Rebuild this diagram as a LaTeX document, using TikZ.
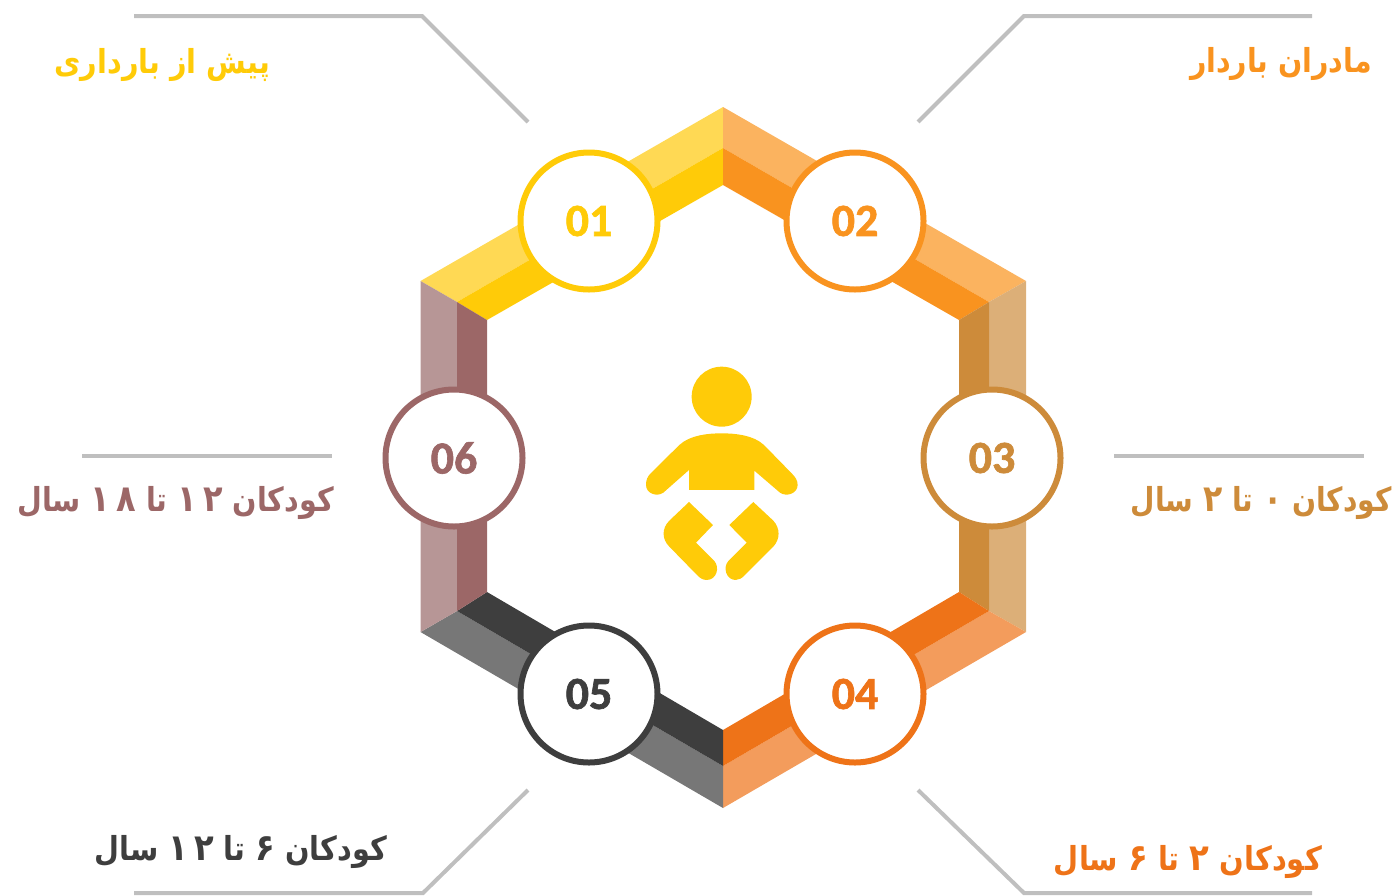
\documentclass[tikz,border=0pt]{standalone}
\usepackage{fontspec}
\TeXXeTstate=1
\newfontfamily\arabicfont[Script=Arabic,FakeStretch=0.88]{DejaVu Sans}
\newfontfamily\numfont[BoldFeatures={FakeBold=1.4}]{Carlito}
\newcommand{\dg}[1]{\beginL{\fontsize{37}{34}\selectfont #1}\endL{}}
\definecolor{yA}{HTML}{FFCB08}\definecolor{yB}{HTML}{FFD954}
\definecolor{oA}{HTML}{F9931F}\definecolor{oB}{HTML}{FBB35F}
\definecolor{tA}{HTML}{CD8B3A}\definecolor{tB}{HTML}{DCAF78}
\definecolor{rA}{HTML}{EE7318}\definecolor{rB}{HTML}{F39C5C}
\definecolor{gA}{HTML}{3E3E3E}\definecolor{gB}{HTML}{777777}
\definecolor{bA}{HTML}{9C6767}\definecolor{bB}{HTML}{B79696}
\definecolor{lineg}{HTML}{BFBFBF}
\tikzset{
  numcircle/.style={circle,draw=#1,fill=white,line width=6pt,minimum size=137pt,inner sep=0pt,text=#1,font=\numfont\bfseries\fontsize{46}{46}\selectfont},
  leader/.style={draw=lineg,line width=4pt},
  lbl/.style={text=#1,inner sep=0pt,font=\arabicfont\bfseries\fontsize{33}{38}\selectfont},
}
\begin{document}
\begin{tikzpicture}[x=1pt,y=-1pt]
\useasboundingbox (0,0) rectangle (1399,895);
% outer, middle, inner hexagon
\coordinate (o1) at (420.5,281);\coordinate (o2) at (723,107);\coordinate (o3) at (1026,281);
\coordinate (o4) at (1026,632);\coordinate (o5) at (723,808);\coordinate (o6) at (420.5,632);
\coordinate (m1) at (457,302);\coordinate (m2) at (723,148);\coordinate (m3) at (989,302);
\coordinate (m4) at (989,611);\coordinate (m5) at (723,766);\coordinate (m6) at (457,611);
\coordinate (i1) at (487,320);\coordinate (i2) at (723,185);\coordinate (i3) at (959,320);
\coordinate (i4) at (959,592);\coordinate (i5) at (723,730);\coordinate (i6) at (487,592);
\fill[yB] (o1)--(o2)--(m2)--(m1)--cycle; \fill[yA] (m1)--(m2)--(i2)--(i1)--cycle;
\fill[oB] (o2)--(o3)--(m3)--(m2)--cycle; \fill[oA] (m2)--(m3)--(i3)--(i2)--cycle;
\fill[tB] (o3)--(o4)--(m4)--(m3)--cycle; \fill[tA] (m3)--(m4)--(i4)--(i3)--cycle;
\fill[rB] (o4)--(o5)--(m5)--(m4)--cycle; \fill[rA] (m4)--(m5)--(i5)--(i4)--cycle;
\fill[gB] (o5)--(o6)--(m6)--(m5)--cycle; \fill[gA] (m5)--(m6)--(i6)--(i5)--cycle;
\fill[bB] (o6)--(o1)--(m1)--(m6)--cycle; \fill[bA] (m6)--(m1)--(i1)--(i6)--cycle;
% numbered circles
\node[numcircle=yA] (c1) at (589,221) {\raisebox{-1pt}{01}};
\node[numcircle=oA] (c2) at (855,221) {\raisebox{-1pt}{02}};
\node[numcircle=tA] (c3) at (992,458) {\raisebox{-1pt}{03}};
\node[numcircle=rA] (c4) at (855,694) {\raisebox{-1pt}{04}};
\node[numcircle=gA] (c5) at (589,694) {\raisebox{-1pt}{05}};
\node[numcircle=bA] (c6) at (454,458) {\raisebox{-1pt}{06}};
% leaders
\coordinate (a1) at (134,16);\coordinate (a2) at (422,16);\coordinate (a3) at (528,122);
\coordinate (b1) at (1312,16);\coordinate (b2) at (1024,16);\coordinate (b3) at (918,122);
\coordinate (d1) at (82,456);\coordinate (d2) at (332,456);
\coordinate (e1) at (1114,456);\coordinate (e2) at (1364,456);
\coordinate (f1) at (134,893);\coordinate (f2) at (423,893);\coordinate (f3) at (528,790);
\coordinate (g1) at (1312,893);\coordinate (g2) at (1024,893);\coordinate (g3) at (918,790);
\draw[leader] (a1)--(a2)--(a3);
\draw[leader] (b1)--(b2)--(b3);
\draw[leader] (d1)--(d2);
\draw[leader] (e1)--(e2);
\draw[leader] (f1)--(f2)--(f3);
\draw[leader] (g1)--(g2)--(g3);
% labels
\node[lbl=yA,anchor=mid east] (t1) at (270,71.5) {\scalebox{0.99}[1]{\beginR پیش از بارداری\endR}};
\node[lbl=oA,anchor=mid east] (t2) at (1372,70) {\scalebox{0.98}[1]{\beginR مادران باردار\endR}};
\node[lbl=tA,anchor=mid east] (t3) at (1392,509) {\scalebox{0.97}[1]{\beginR کودکان \dg{۰} تا \dg{۲} سال\endR}};
\node[lbl=rA,anchor=mid east] (t4) at (1322,868) {\scalebox{0.995}[1]{\beginR کودکان \dg{۲} تا \dg{۶} سال\endR}};
\node[lbl=gA,anchor=mid east] (t5) at (387,858) {\scalebox{0.99}[1]{\beginR کودکان \dg{۶} تا \dg{۱\,۲} سال\endR}};
\node[lbl=bA,anchor=mid east] (t6) at (334,509) {\scalebox{0.985}[1]{\beginR کودکان \dg{۱\,۲} تا \dg{۱\,۸} سال\endR}};
% baby
\begin{scope}[shift={(620,350)},x=0.3333pt,y=-0.3333pt]
\fill[yA] (305,140) circle[x radius=90,y radius=90];
\fill[yA] (207,420)--(403,420)--(403,362)--(480,428)
  .. controls (500,442) and (533,430) .. (533,405)
  .. controls (533,390) and (525,380) .. (515,370)
  --(432,285) .. controls (400,255) and (345,250) .. (305,250)
  .. controls (265,250) and (210,255) .. (178,285)
  --(92,370) .. controls (82,380) and (78,390) .. (78,405)
  .. controls (78,430) and (110,442) .. (130,428)
  --(207,360)--cycle;
\fill[yA] (207,456)--(279,525)--(228,578)--(283,633)
  .. controls (300,652) and (290,690) .. (260,690)
  .. controls (248,690) and (240,684) .. (232,676)
  --(148,590) .. controls (125,567) and (125,535) .. (148,512)--cycle;
\fill[yA] (400,456)--(328,525)--(380,578)--(325,633)
  .. controls (308,652) and (318,690) .. (347,690)
  .. controls (358,690) and (366,684) .. (374,676)
  --(460,590) .. controls (481,567) and (481,535) .. (460,512)--cycle;
\end{scope}
\end{tikzpicture}
\end{document}
